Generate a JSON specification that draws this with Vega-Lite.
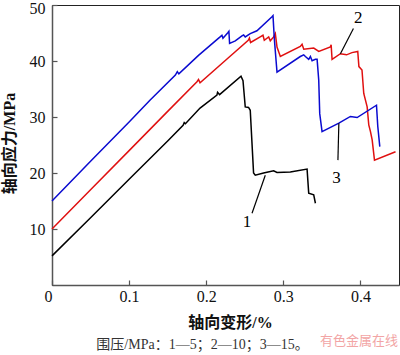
{
  "$schema": "https://vega.github.io/schema/vega-lite/v6.json",
  "autosize": {"type": "none"},
  "width": 347,
  "height": 280,
  "padding": {"left": 52, "top": 5, "right": 1, "bottom": 70},
  "background": "white",
  "config": {
    "view": {"stroke": "#222", "strokeWidth": 1},
    "axis": {
      "grid": false,
      "domainColor": "#555",
      "domainWidth": 1.5,
      "tickColor": "#555",
      "tickWidth": 1.2,
      "tickSize": -5,
      "labelFont": "Liberation Serif",
      "labelFontSize": 16,
      "labelColor": "#111",
      "titleFont": "Liberation Serif, Noto Sans CJK SC",
      "titleFontSize": 16,
      "titleFontWeight": "bold",
      "titleColor": "#111"
    }
  },
  "title": {
    "text": "围压/MPa：1—5；2—10；3—15。",
    "orient": "bottom",
    "anchor": "middle",
    "dx": -23,
    "offset": -10,
    "font": "Liberation Serif, Noto Sans CJK SC",
    "fontSize": 14,
    "fontWeight": "normal",
    "color": "#333"
  },
  "datasets": {
    "curves": [
      {"s": "1", "i": 0, "x": 0, "y": 5.2},
      {"s": "1", "i": 1, "x": 0.05, "y": 12.0},
      {"s": "1", "i": 2, "x": 0.10, "y": 18.9},
      {"s": "1", "i": 3, "x": 0.15, "y": 25.7},
      {"s": "1", "i": 4, "x": 0.170, "y": 28.5},
      {"s": "1", "i": 5, "x": 0.1715, "y": 29.0},
      {"s": "1", "i": 6, "x": 0.173, "y": 28.8},
      {"s": "1", "i": 7, "x": 0.192, "y": 31.6},
      {"s": "1", "i": 8, "x": 0.2139, "y": 33.9},
      {"s": "1", "i": 9, "x": 0.2147, "y": 34.4},
      {"s": "1", "i": 10, "x": 0.2173, "y": 34.0},
      {"s": "1", "i": 11, "x": 0.2451, "y": 37.3},
      {"s": "1", "i": 12, "x": 0.2477, "y": 36.5},
      {"s": "1", "i": 13, "x": 0.2506, "y": 31.8},
      {"s": "1", "i": 14, "x": 0.2549, "y": 31.7},
      {"s": "1", "i": 15, "x": 0.2571, "y": 31.2},
      {"s": "1", "i": 16, "x": 0.2614, "y": 20.0},
      {"s": "1", "i": 17, "x": 0.2636, "y": 19.6},
      {"s": "1", "i": 18, "x": 0.2744, "y": 20.0},
      {"s": "1", "i": 19, "x": 0.2874, "y": 20.4},
      {"s": "1", "i": 20, "x": 0.2918, "y": 20.1},
      {"s": "1", "i": 21, "x": 0.3091, "y": 20.2},
      {"s": "1", "i": 22, "x": 0.3308, "y": 20.7},
      {"s": "1", "i": 23, "x": 0.3329, "y": 16.4},
      {"s": "1", "i": 24, "x": 0.3394, "y": 16.1},
      {"s": "1", "i": 25, "x": 0.3416, "y": 14.6},
      {"s": "2", "i": 0, "x": 0, "y": 10.0},
      {"s": "2", "i": 1, "x": 0.05, "y": 17.0},
      {"s": "2", "i": 2, "x": 0.10, "y": 24.0},
      {"s": "2", "i": 3, "x": 0.15, "y": 31.0},
      {"s": "2", "i": 4, "x": 0.188, "y": 36.3},
      {"s": "2", "i": 5, "x": 0.190, "y": 36.7},
      {"s": "2", "i": 6, "x": 0.192, "y": 36.1},
      {"s": "2", "i": 7, "x": 0.224, "y": 40.0},
      {"s": "2", "i": 8, "x": 0.2545, "y": 43.7},
      {"s": "2", "i": 9, "x": 0.2560, "y": 44.1},
      {"s": "2", "i": 10, "x": 0.2575, "y": 43.3},
      {"s": "2", "i": 11, "x": 0.270, "y": 44.3},
      {"s": "2", "i": 12, "x": 0.2736, "y": 44.6},
      {"s": "2", "i": 13, "x": 0.2753, "y": 43.7},
      {"s": "2", "i": 14, "x": 0.281, "y": 44.3},
      {"s": "2", "i": 15, "x": 0.2831, "y": 43.6},
      {"s": "2", "i": 16, "x": 0.2874, "y": 44.3},
      {"s": "2", "i": 17, "x": 0.2896, "y": 44.9},
      {"s": "2", "i": 18, "x": 0.2918, "y": 42.5},
      {"s": "2", "i": 19, "x": 0.2961, "y": 40.8},
      {"s": "2", "i": 20, "x": 0.322, "y": 42.6},
      {"s": "2", "i": 21, "x": 0.3243, "y": 43.0},
      {"s": "2", "i": 22, "x": 0.3265, "y": 42.1},
      {"s": "2", "i": 23, "x": 0.3394, "y": 42.3},
      {"s": "2", "i": 24, "x": 0.346, "y": 41.7},
      {"s": "2", "i": 25, "x": 0.361, "y": 42.5},
      {"s": "2", "i": 26, "x": 0.362, "y": 42.9},
      {"s": "2", "i": 27, "x": 0.3632, "y": 40.3},
      {"s": "2", "i": 28, "x": 0.374, "y": 41.3},
      {"s": "2", "i": 29, "x": 0.382, "y": 41.1},
      {"s": "2", "i": 30, "x": 0.389, "y": 41.5},
      {"s": "2", "i": 31, "x": 0.3965, "y": 41.7},
      {"s": "2", "i": 32, "x": 0.398, "y": 39.0},
      {"s": "2", "i": 33, "x": 0.402, "y": 38.4},
      {"s": "2", "i": 34, "x": 0.4043, "y": 34.2},
      {"s": "2", "i": 35, "x": 0.4087, "y": 31.8},
      {"s": "2", "i": 36, "x": 0.4108, "y": 28.6},
      {"s": "2", "i": 37, "x": 0.413, "y": 27.4},
      {"s": "2", "i": 38, "x": 0.4152, "y": 25.9},
      {"s": "2", "i": 39, "x": 0.4182, "y": 22.3},
      {"s": "2", "i": 40, "x": 0.4455, "y": 23.8},
      {"s": "3", "i": 0, "x": 0, "y": 15.0},
      {"s": "3", "i": 1, "x": 0.05, "y": 22.1},
      {"s": "3", "i": 2, "x": 0.10, "y": 29.1},
      {"s": "3", "i": 3, "x": 0.127, "y": 33.0},
      {"s": "3", "i": 4, "x": 0.160, "y": 37.5},
      {"s": "3", "i": 5, "x": 0.1625, "y": 38.1},
      {"s": "3", "i": 6, "x": 0.1645, "y": 37.7},
      {"s": "3", "i": 7, "x": 0.19, "y": 41.0},
      {"s": "3", "i": 8, "x": 0.218, "y": 44.3},
      {"s": "3", "i": 9, "x": 0.2204, "y": 44.6},
      {"s": "3", "i": 10, "x": 0.2217, "y": 44.05},
      {"s": "3", "i": 11, "x": 0.228, "y": 45.05},
      {"s": "3", "i": 12, "x": 0.2294, "y": 45.3},
      {"s": "3", "i": 13, "x": 0.2303, "y": 43.15},
      {"s": "3", "i": 14, "x": 0.2377, "y": 43.6},
      {"s": "3", "i": 15, "x": 0.2463, "y": 44.5},
      {"s": "3", "i": 16, "x": 0.2485, "y": 44.65},
      {"s": "3", "i": 17, "x": 0.2506, "y": 44.3},
      {"s": "3", "i": 18, "x": 0.2571, "y": 44.9},
      {"s": "3", "i": 19, "x": 0.2658, "y": 45.4},
      {"s": "3", "i": 20, "x": 0.2853, "y": 47.9},
      {"s": "3", "i": 21, "x": 0.2866, "y": 48.1},
      {"s": "3", "i": 22, "x": 0.2883, "y": 44.0},
      {"s": "3", "i": 23, "x": 0.2918, "y": 38.0},
      {"s": "3", "i": 24, "x": 0.322, "y": 40.8},
      {"s": "3", "i": 25, "x": 0.3264, "y": 41.1},
      {"s": "3", "i": 26, "x": 0.3286, "y": 40.8},
      {"s": "3", "i": 27, "x": 0.3329, "y": 40.3},
      {"s": "3", "i": 28, "x": 0.3351, "y": 40.8},
      {"s": "3", "i": 29, "x": 0.3373, "y": 40.05},
      {"s": "3", "i": 30, "x": 0.3416, "y": 40.3},
      {"s": "3", "i": 31, "x": 0.3438, "y": 40.3},
      {"s": "3", "i": 32, "x": 0.3459, "y": 36.6},
      {"s": "3", "i": 33, "x": 0.3472, "y": 30.6},
      {"s": "3", "i": 34, "x": 0.3502, "y": 27.4},
      {"s": "3", "i": 35, "x": 0.372, "y": 28.9},
      {"s": "3", "i": 36, "x": 0.387, "y": 30.1},
      {"s": "3", "i": 37, "x": 0.3957, "y": 29.9},
      {"s": "3", "i": 38, "x": 0.4208, "y": 32.1},
      {"s": "3", "i": 39, "x": 0.4225, "y": 28.3},
      {"s": "3", "i": 40, "x": 0.4251, "y": 24.7}
    ],
    "leaders": [
      {"x": 0.2594, "y": 12.8, "x2": 0.2766, "y2": 19.6},
      {"x": 0.3708, "y": 22.3, "x2": 0.372, "y2": 28.9},
      {"x": 0.3909, "y": 45.8, "x2": 0.374, "y2": 41.3}
    ],
    "labels": [
      {"x": 0.2528, "y": 11.3, "t": "1"},
      {"x": 0.3688, "y": 19.1, "t": "3"},
      {"x": 0.397, "y": 47.7, "t": "2"}
    ],
    "mark": [
      {"x": 0.398, "y": -10.0, "t": "有色金属在线"}
    ]
  },
  "layer": [
    {
      "data": {"name": "curves"},
      "mark": {"type": "line", "strokeWidth": 1.5, "interpolate": "linear"},
      "encoding": {
        "x": {
          "field": "x", "type": "quantitative",
          "scale": {"domain": [0, 0.45], "nice": false, "zero": false},
          "axis": {
            "values": [0, 0.1, 0.2, 0.3, 0.4],
            "format": "~g",
            "labelPadding": 8,
            "labelAlign": {"condition": {"test": "datum.value === 0", "value": "right"}, "value": "center"},
            "title": "轴向变形/%",
            "titleX": 178,
            "titleY": 37,
            "titleBaseline": "middle"
          }
        },
        "y": {
          "field": "y", "type": "quantitative",
          "scale": {"domain": [0, 50], "nice": false, "zero": false},
          "axis": {
            "values": [10, 20, 30, 40, 50],
            "labelPadding": 12,
            "labelOffset": {"condition": {"test": "datum.value === 50", "value": 3}, "value": 0},
            "title": "轴向应力/MPa",
            "titleX": -43,
            "titleY": 138,
            "titleAngle": -90,
            "titleBaseline": "middle",
            "titleAlign": "center"
          }
        },
        "color": {
          "field": "s", "type": "nominal",
          "scale": {"domain": ["1", "2", "3"], "range": ["#000000", "#e01010", "#0a0ad0"]},
          "legend": null
        },
        "order": {"field": "i", "type": "quantitative"}
      }
    },
    {
      "data": {"name": "leaders"},
      "mark": {"type": "rule", "color": "#000", "strokeWidth": 1.2},
      "encoding": {
        "x": {"field": "x", "type": "quantitative"},
        "y": {"field": "y", "type": "quantitative"},
        "x2": {"field": "x2"},
        "y2": {"field": "y2"}
      }
    },
    {
      "data": {"name": "labels"},
      "mark": {"type": "text", "font": "Liberation Serif", "fontSize": 17, "color": "#000", "align": "center", "baseline": "middle"},
      "encoding": {
        "x": {"field": "x", "type": "quantitative"},
        "y": {"field": "y", "type": "quantitative"},
        "text": {"field": "t"}
      }
    },
    {
      "data": {"name": "mark"},
      "mark": {"type": "text", "font": "Noto Sans CJK SC", "fontSize": 13, "color": "#f2a5a5", "align": "center", "baseline": "middle"},
      "encoding": {
        "x": {"field": "x", "type": "quantitative"},
        "y": {"field": "y", "type": "quantitative"},
        "text": {"field": "t"}
      }
    }
  ]
}
